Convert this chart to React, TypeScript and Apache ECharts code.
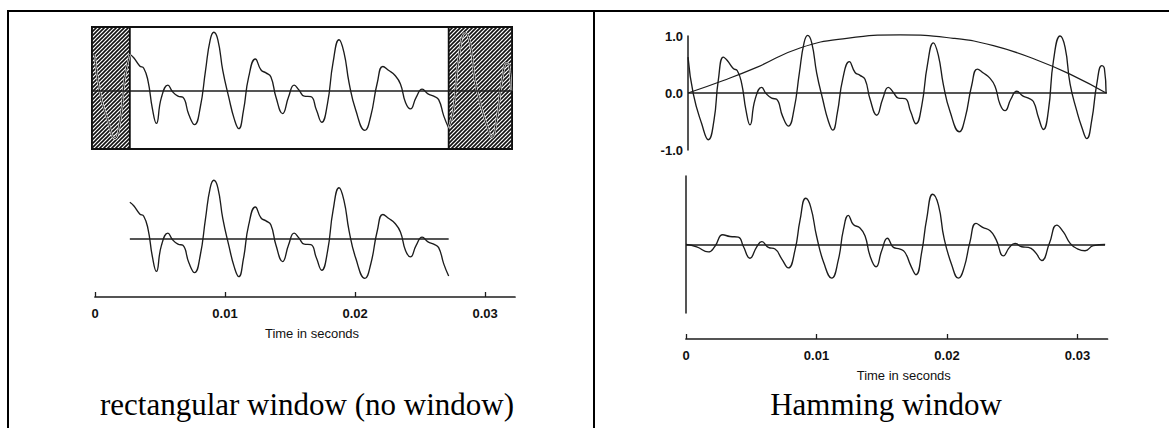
import React, { useEffect, useRef } from "react";
import * as echarts from "echarts";

// Speech segment (seconds, amplitude)
const speechTime = [0.0, 0.00041, 0.00105, 0.00156, 0.00199, 0.00232, 0.00271, 0.00301, 0.00347, 0.00378, 0.00411, 0.00444, 0.00475, 0.00513, 0.00564, 0.00598, 0.00641, 0.00679, 0.00725, 0.00769, 0.00812, 0.00853, 0.00889, 0.00917, 0.00948, 0.00986, 0.01032, 0.01075, 0.01109, 0.01144, 0.01185, 0.01236, 0.0128, 0.01318, 0.01356, 0.01395, 0.01446, 0.01492, 0.01535, 0.01573, 0.01612, 0.01663, 0.01706, 0.01747, 0.01791, 0.01834, 0.0188, 0.01918, 0.01957, 0.02008, 0.02079, 0.02123, 0.02174, 0.02217, 0.02263, 0.02309, 0.02352, 0.02391, 0.02429, 0.02473, 0.02519, 0.02564, 0.02608, 0.02646, 0.02685, 0.02723, 0.02761, 0.028, 0.02851, 0.02889, 0.02927, 0.02978, 0.03017, 0.03055, 0.03093, 0.03132, 0.0317, 0.0319, 0.03203];
const speechValue = [0.63, -0.02, -0.54, -0.82, -0.48, 0.22, 0.63, 0.57, 0.43, 0.39, 0.17, -0.3, -0.56, -0.12, 0.1, -0.01, -0.09, -0.11, -0.41, -0.58, -0.29, 0.35, 0.88, 1.01, 0.88, 0.35, -0.11, -0.49, -0.65, -0.35, 0.24, 0.55, 0.36, 0.31, 0.24, -0.11, -0.39, -0.1, 0.1, 0.01, -0.09, -0.1, -0.33, -0.54, -0.22, 0.49, 0.88, 0.66, 0.14, -0.33, -0.68, -0.44, 0.14, 0.42, 0.35, 0.27, 0.12, -0.2, -0.31, -0.11, 0.03, -0.05, -0.09, -0.15, -0.43, -0.64, -0.31, 0.57, 1.0, 0.8, 0.16, -0.31, -0.6, -0.8, -0.48, 0.16, 0.48, 0.43, 0.0];

// Hamming-windowed segment
const windowedTime = [0, 0.00082, 0.00171, 0.00222, 0.00281, 0.00337, 0.00401, 0.00439, 0.0049, 0.00542, 0.0058, 0.00631, 0.00682, 0.00733, 0.00784, 0.00835, 0.00874, 0.00917, 0.00955, 0.01001, 0.01057, 0.01116, 0.01167, 0.01206, 0.01244, 0.01282, 0.01333, 0.01372, 0.0141, 0.01456, 0.01499, 0.01543, 0.01589, 0.0164, 0.01678, 0.01722, 0.01762, 0.01806, 0.01844, 0.0189, 0.01934, 0.01977, 0.02036, 0.02087, 0.0213, 0.02176, 0.02222, 0.02273, 0.0233, 0.02375, 0.02432, 0.02478, 0.02521, 0.02572, 0.02623, 0.02674, 0.02725, 0.02784, 0.0284, 0.02891, 0.02943, 0.02994, 0.03057, 0.03121, 0.03211];
const windowedValue = [0, -0.04, -0.13, -0.03, 0.17, 0.14, 0.13, -0.03, -0.24, -0.04, 0.05, -0.05, -0.08, -0.25, -0.41, -0.1, 0.43, 0.81, 0.66, 0.14, -0.33, -0.59, -0.27, 0.26, 0.51, 0.35, 0.29, 0.15, -0.2, -0.39, -0.11, 0.11, -0.05, -0.08, -0.14, -0.37, -0.53, -0.13, 0.45, 0.88, 0.69, 0.11, -0.36, -0.59, -0.41, 0.05, 0.37, 0.3, 0.24, 0.09, -0.2, -0.05, 0.02, -0.04, -0.05, -0.13, -0.28, 0.02, 0.34, 0.22, 0.02, -0.07, -0.11, -0.02, 0.0];

// Hamming window curve
const hammingTime = [0, 0.00271, 0.00526, 0.00858, 0.01216, 0.01625, 0.02033, 0.0234, 0.02672, 0.02953, 0.03203];
const hammingValue = [0, 0.22, 0.45, 0.79, 0.96, 1.02, 0.96, 0.83, 0.58, 0.3, 0];

const timeTicks = [0, 0.01, 0.02, 0.03];
const ampTicks = [-1, 0, 1];
const rectStart = 0.00271; // start of rectangular window
const rectEnd = 0.02723; // end of rectangular window
const boxStart = -0.0002;
const boxEnd = 0.0321;
const captions = ["rectangular window (no window)", "Hamming window"];
const axisTitle = "Time in seconds";

const pairs = (t: number[], v: number[]) => t.map((x, i) => [x, v[i]]);

function makeHatch(): HTMLCanvasElement {
  const c = document.createElement("canvas");
  c.width = 4;
  c.height = 4;
  const g = c.getContext("2d")!;
  g.fillStyle = "#ffffff";
  g.fillRect(0, 0, 4, 4);
  g.strokeStyle = "#111111";
  g.lineWidth = 1.6;
  g.beginPath();
  g.moveTo(0, 4);
  g.lineTo(4, 0);
  g.moveTo(-1, 1);
  g.lineTo(1, -1);
  g.moveTo(3, 5);
  g.lineTo(5, 3);
  g.stroke();
  return c;
}

const INK = "#1c1c1c";
const SANS = '"Liberation Sans", Arial, sans-serif';
const SMOOTH = 0.5;

export default function App() {
  const ref = useRef<HTMLDivElement>(null);
  useEffect(() => {
    document.body.style.margin = "0";
    const chart = echarts.init(ref.current!, null, { renderer: "svg" });
    const all = pairs(speechTime, speechValue);
    const iStart = speechTime.indexOf(rectStart);
    const iEnd = speechTime.indexOf(rectEnd);
    const mid = all.slice(iStart, iEnd + 1);
    const head = all.slice(0, iStart + 1);
    const tail = all.slice(iEnd);
    const hatch = makeHatch();

    const signalStyle = { color: INK, width: 1.35 };
    const zeroLine = (data: any) => ({
      silent: true,
      symbol: ["none", "none"],
      label: { show: false },
      lineStyle: { color: INK, width: 1.5, type: "solid" },
      emphasis: { disabled: true },
      data,
    });

    const timeAxis = (gridIndex: number, min: number, max: number, shown: boolean) => ({
      type: "value",
      gridIndex,
      min,
      max,
      show: shown,
      position: "bottom",
      splitLine: { show: false },
      axisLine: { show: shown, onZero: false, lineStyle: { color: INK, width: 1.7 } },
      axisTick: {
        show: shown,
        inside: true,
        length: 5,
        customValues: timeTicks,
        lineStyle: { color: INK, width: 1.3 },
      },
      axisLabel: {
        show: shown,
        customValues: timeTicks,
        margin: 10,
        color: "#111",
        fontSize: 13,
        fontWeight: "bold",
        fontFamily: SANS,
        formatter: (v: number) => (v === 0 ? "0" : v.toFixed(2)),
      },
      name: shown ? axisTitle : "",
      nameLocation: "middle",
      nameGap: 30,
      nameTextStyle: { color: "#111", fontSize: 13, fontFamily: SANS, padding: [0, 0, 0, 14] },
    });

    const hiddenY = (gridIndex: number, min: number, max: number) => ({
      type: "value",
      gridIndex,
      min,
      max,
      show: false,
      splitLine: { show: false },
    });

    chart.setOption({
      animation: false,
      backgroundColor: "#ffffff",
      grid: [
        { left: 92, top: 27, width: 420, height: 122, show: true, borderColor: "#111", borderWidth: 2, backgroundColor: "transparent" },
        { left: 92, top: 175, width: 420, height: 122 },
        { left: 95, top: 260, width: 420, height: 37 },
        { left: 688, top: 36, width: 419, height: 114 },
        { left: 686, top: 176, width: 419, height: 137 },
        { left: 686, top: 300, width: 421.5, height: 39 },
      ],
      xAxis: [
        timeAxis(0, boxStart, boxEnd, false),
        timeAxis(1, boxStart, boxEnd, false),
        timeAxis(2, 0, 0.0323, true),
        timeAxis(3, 0, 0.0321, false),
        timeAxis(4, 0, 0.0321, false),
        timeAxis(5, 0, 0.0323, true),
      ],
      yAxis: [
        hiddenY(0, -1.0, 1.1),
        hiddenY(1, -1.0, 1.1),
        hiddenY(2, 0, 1),
        {
          type: "value",
          gridIndex: 3,
          min: -1,
          max: 1,
          interval: 1,
          splitLine: { show: false },
          axisLine: { show: true, lineStyle: { color: INK, width: 1.5 } },
          axisTick: { show: false },
          axisLabel: {
            margin: 5,
            color: "#111",
            fontSize: 13,
            fontWeight: "bold",
            fontFamily: SANS,
            formatter: (v: number) => v.toFixed(1),
            customValues: ampTicks,
          },
        },
        {
          type: "value",
          gridIndex: 4,
          min: -1.2,
          max: 1.2,
          splitLine: { show: false },
          axisLine: { show: true, lineStyle: { color: INK, width: 1.5 } },
          axisTick: { show: false },
          axisLabel: { show: false },
        },
        hiddenY(5, 0, 1),
      ],
      graphic: [
        { type: "line", shape: { x1: 7, y1: 11, x2: 1169, y2: 11 }, style: { stroke: "#000", lineWidth: 2 } },
        { type: "line", shape: { x1: 8, y1: 11, x2: 8, y2: 428 }, style: { stroke: "#000", lineWidth: 2 } },
        { type: "line", shape: { x1: 594, y1: 11, x2: 594, y2: 428 }, style: { stroke: "#000", lineWidth: 2 } },
        {
          type: "text",
          x: 307,
          y: 404,
          style: {
            text: captions[0],
            font: '31px "Liberation Serif", "Times New Roman", serif',
            fill: "#000",
            align: "center",
            verticalAlign: "middle",
            textAlign: "center",
            textVerticalAlign: "middle",
          },
        },
        {
          type: "text",
          x: 886,
          y: 404,
          style: {
            text: captions[1],
            font: '31px "Liberation Serif", "Times New Roman", serif',
            fill: "#000",
            align: "center",
            verticalAlign: "middle",
            textAlign: "center",
            textVerticalAlign: "middle",
          },
        },
      ],
      series: [
        // Left top: whole signal with hatched (discarded) ends
        {
          type: "line",
          xAxisIndex: 0,
          yAxisIndex: 0,
          data: mid,
          smooth: SMOOTH,
          symbol: "none",
          lineStyle: signalStyle,
          markArea: {
            silent: true,
            itemStyle: {
              color: { image: hatch, repeat: "repeat", imageWidth: 4, imageHeight: 4 },
              borderColor: "#111",
              borderWidth: 1.8,
            },
            data: [
              [{ xAxis: boxStart }, { xAxis: rectStart }],
              [{ xAxis: rectEnd }, { xAxis: boxEnd }],
            ],
          },
          markLine: zeroLine([{ yAxis: 0 }]),
        },
        { type: "line", xAxisIndex: 0, yAxisIndex: 0, data: head, smooth: SMOOTH, symbol: "none", lineStyle: { color: "#e8e8e8", width: 2.2 } },
        { type: "line", xAxisIndex: 0, yAxisIndex: 0, data: head, smooth: SMOOTH, symbol: "none", lineStyle: { color: INK, width: 1 } },
        { type: "line", xAxisIndex: 0, yAxisIndex: 0, data: tail, smooth: SMOOTH, symbol: "none", lineStyle: { color: "#e8e8e8", width: 2.2 } },
        { type: "line", xAxisIndex: 0, yAxisIndex: 0, data: tail, smooth: SMOOTH, symbol: "none", lineStyle: { color: INK, width: 1 } },
        // Left bottom: rectangular-windowed segment
        {
          type: "line",
          xAxisIndex: 1,
          yAxisIndex: 1,
          data: mid,
          smooth: SMOOTH,
          symbol: "none",
          lineStyle: signalStyle,
          markLine: zeroLine([[{ coord: [rectStart, 0] }, { coord: [rectEnd, 0] }]]),
        },
        { type: "line", xAxisIndex: 2, yAxisIndex: 2, data: [], symbol: "none" },
        // Right top: signal and Hamming window
        {
          type: "line",
          xAxisIndex: 3,
          yAxisIndex: 3,
          data: all,
          smooth: SMOOTH,
          symbol: "none",
          clip: false,
          lineStyle: signalStyle,
          markLine: zeroLine([{ yAxis: 0 }]),
        },
        {
          type: "line",
          xAxisIndex: 3,
          yAxisIndex: 3,
          data: pairs(hammingTime, hammingValue),
          smooth: 0.5,
          symbol: "none",
          clip: false,
          lineStyle: { color: INK, width: 1.2 },
        },
        // Right bottom: windowed signal
        {
          type: "line",
          xAxisIndex: 4,
          yAxisIndex: 4,
          data: pairs(windowedTime, windowedValue),
          smooth: SMOOTH,
          symbol: "none",
          lineStyle: signalStyle,
          markLine: zeroLine([{ yAxis: 0 }]),
        },
        { type: "line", xAxisIndex: 5, yAxisIndex: 5, data: [], symbol: "none" },
      ],
    });
    return () => chart.dispose();
  }, []);
  return <div ref={ref} style={{ width: 1169, height: 428 }} />;
}
